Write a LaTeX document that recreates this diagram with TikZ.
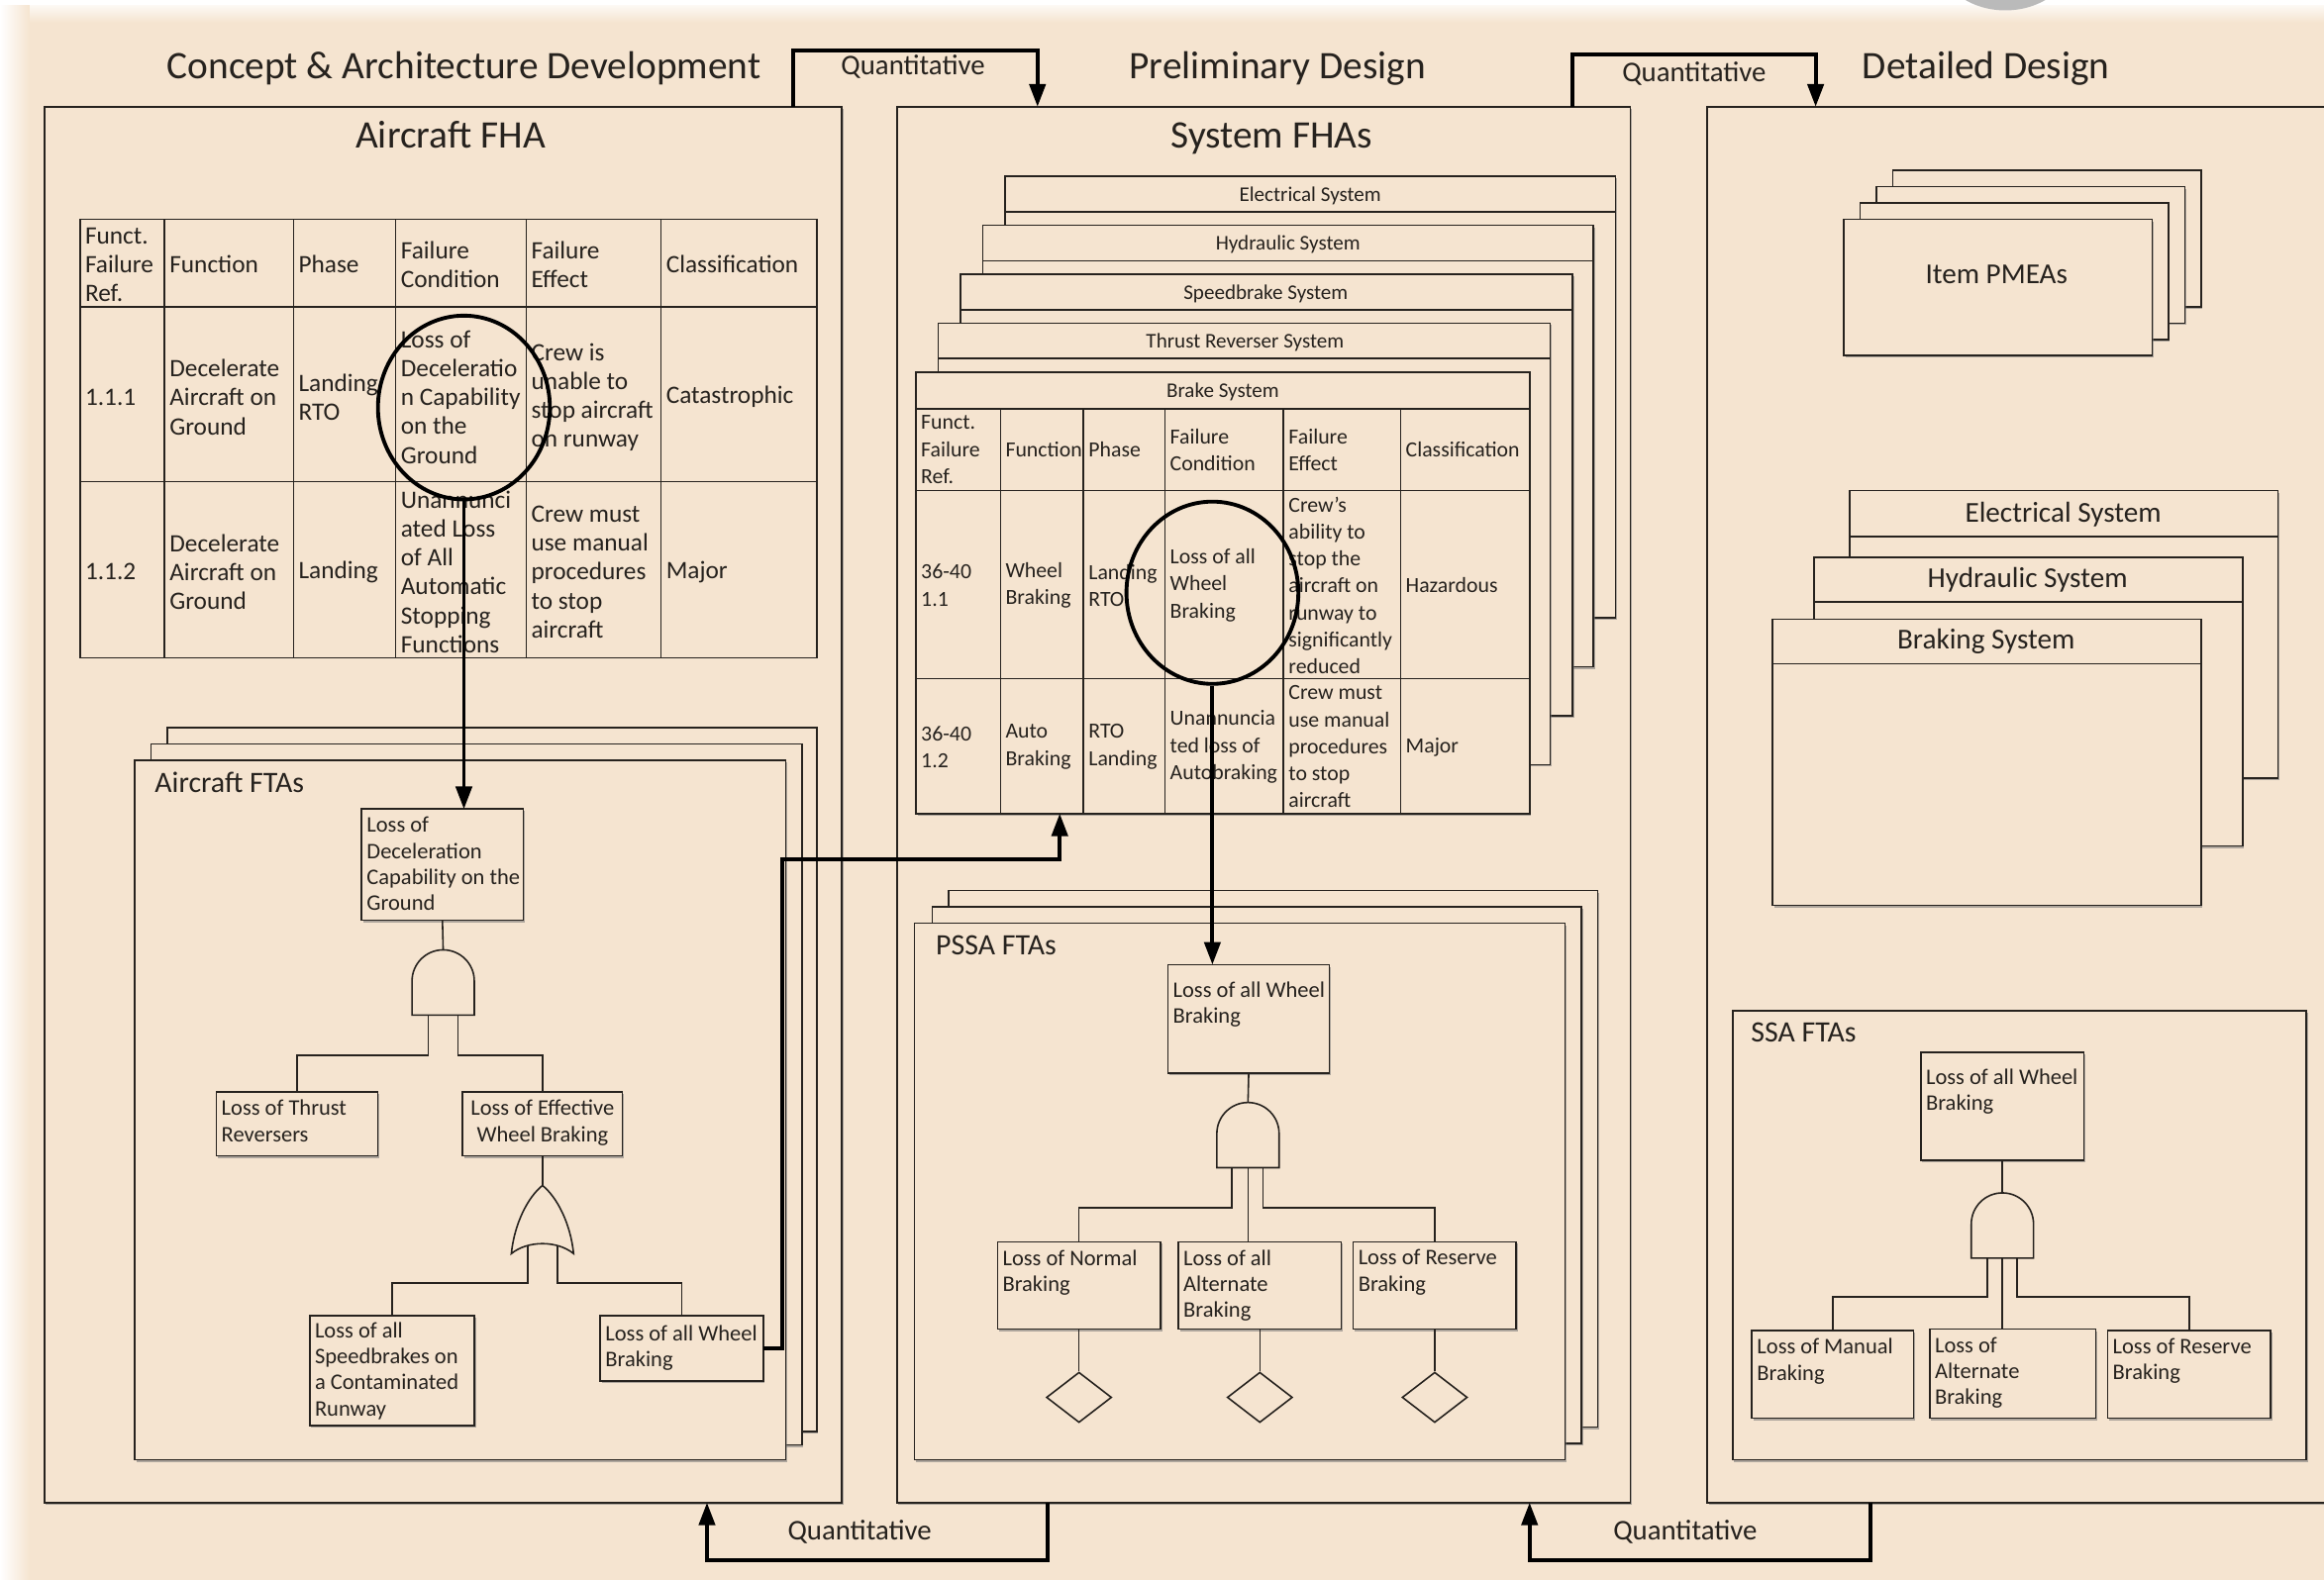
\documentclass[tikz,border=0pt]{standalone}
\usepackage{fontspec}
\setmainfont{Carlito}
\usetikzlibrary{arrows.meta,shapes.geometric,shadows}
\definecolor{bg}{RGB}{245,228,208}
\definecolor{ink}{RGB}{38,34,30}
\newlength\ux
\setlength\ux{0.014968cm}
\newcommand\fsz[2]{\fontsize{#1}{#2}\selectfont}

\tikzset{
  shade box/.style={drop shadow={shadow xshift=0.45pt, shadow yshift=-0.6pt, fill=black!55, opacity=0.55}},
  panel/.style={draw=ink, line width=0.55pt, fill=bg, inner sep=0pt, outer sep=0pt, shade box},
  card/.style={draw=ink, line width=0.45pt, fill=bg, inner sep=0pt, outer sep=0pt, shade box},
  plain box/.style={draw=ink, line width=0.45pt, fill=bg, inner sep=0pt, outer sep=0pt},
  rule/.style={draw=ink, line width=0.45pt},
  tree/.style={draw=ink, line width=0.45pt},
  gate/.style={draw=ink, line width=0.45pt, fill=bg},
  heavy/.style={draw=black, line width=1.1pt},
  flow/.style={heavy, -{Triangle[length=6.5pt,width=4.6pt]}},
  ring/.style={ellipse, draw=black, line width=1.1pt, inner sep=0pt},
  stage/.style={font=\fsz{11.2}{13}, inner sep=0pt, anchor=base},
  quant/.style={font=\fsz{8.2}{10}, inner sep=0pt},
  hdr/.style={font=\fsz{8.3}{10}, inner sep=0pt},
  ftitle/.style={font=\fsz{8.5}{10}, inner sep=0pt, anchor=west},
  evtext/.style={font=\fsz{6.4}{7.45}, inner sep=0pt, anchor=north west, align=left},
  fhacell/.style={font=\fsz{7.2}{8.3}, inner sep=0pt, anchor=west, align=left},
  syscell/.style={font=\fsz{6.2}{7.75}, inner sep=0pt, anchor=west, align=left},
  systag/.style={font=\fsz{6}{7}, inner sep=0pt},
  event/.style={diamond, draw=ink, line width=0.45pt, fill=bg, inner sep=0pt,
    minimum width=44\ux, minimum height=34\ux},
}
% box node from its corners: style, name, x1, y1, x2, y2
\newcommand\bx[6]{\node[#1, minimum width={(#5-#3)*\ux}, minimum height={(#6-#4)*\ux}] (#2) at ({(#3+#5)/2},{(#4+#6)/2}) {};}
% AND gate: centre x, bottom y
\newcommand\andgate[2]{\draw[gate] ({#1-21},#2) -- ({#1-21},{#2-23}) .. controls ({#1-21},{#2-34.6}) and ({#1-11.6},{#2-44}) .. (#1,{#2-44}) .. controls ({#1+11.6},{#2-44}) and ({#1+21},{#2-34.6}) .. ({#1+21},{#2-23}) -- ({#1+21},#2) -- cycle;}
% OR gate: centre x, bottom y
\newcommand\orgate[2]{\draw[gate] ({#1-21},#2) .. controls ({#1-19},{#2-20}) and ({#1-10},{#2-38}) .. (#1,{#2-46}) .. controls ({#1+10},{#2-38}) and ({#1+19},{#2-20}) .. ({#1+21},#2) .. controls ({#1+10},{#2-9}) and ({#1-10},{#2-9}) .. ({#1-21},#2) -- cycle;}

\begin{document}
\begin{tikzpicture}[x=\ux, y=-\ux, every node/.append style={text=ink}]
\useasboundingbox (0,0) rectangle (1568,1065.6);
\clip (0,0) rectangle (1568,1065.6);

% paper
\fill[bg] (0,0) rectangle (1568,1066);
\shade[top color=white, bottom color=bg] (0,0) rectangle (1568,15);
\shade[left color=white, right color=bg] (0,0) rectangle (20,1066);
\fill[white] (0,0) rectangle (1568,3);
\fill[black!27] (1353,-30) ellipse [x radius=46, y radius=37];

% the three phase panels
\bx{panel}{pA}{30}{72}{568}{1014}
\bx{panel}{pB}{605}{72}{1100}{1014}
\bx{panel}{pC}{1152}{72}{1620}{1014}

\node[stage] (sA) at (313,53) {Concept \& Architecture Development};
\node[stage] (sB) at (862,53) {Preliminary Design};
\node[stage] (sC) at (1340,53) {Detailed Design};

% quantitative hand-overs between the phases
\coordinate (qa) at (535,34); \coordinate (qb) at (700,34);
\draw[flow] (qa |- pA.north) -- (qa) -- (qb) -- (qb |- pB.north);
\node[quant] (qA) at (616,45) {Quantitative};
\coordinate (qc) at (1061,37); \coordinate (qd) at (1225,37);
\draw[flow] (qc |- pB.north) -- (qc) -- (qd) -- (qd |- pC.north);
\node[quant] (qB) at (1143,50) {Quantitative};
\coordinate (qe) at (707,1053); \coordinate (qf) at (477,1053);
\draw[flow] (qe |- pB.south) -- (qe) -- (qf) -- (qf |- pA.south);
\node[quant] (qC) at (580,1034) {Quantitative};
\coordinate (qg) at (1262,1053); \coordinate (qh) at (1032,1053);
\draw[flow] (qg |- pC.south) -- (qg) -- (qh) -- (qh |- pB.south);
\node[quant] (qD) at (1137,1034) {Quantitative};

% ---------------- Aircraft FHA ----------------
\node[stage] (tA) at (304,100) {Aircraft FHA};
\bx{plain box}{fha}{54}{148}{551}{444}
\foreach \cx in {111,198,267,355,446} \draw[rule] (\cx,148) -- (\cx,444);
\foreach \ry in {207,325} \draw[rule] (54,\ry) -- (551,\ry);
\node[fhacell] (a01) at (57,178.5) {Funct.\\Failure\\Ref.};
\node[fhacell] (a02) at (114,178.5) {Function};
\node[fhacell] (a03) at (201,178.5) {Phase};
\node[fhacell] (a04) at (270,178.5) {Failure\\Condition};
\node[fhacell] (a05) at (358,178.5) {Failure\\Effect};
\node[fhacell] (a06) at (449,178.5) {Classification};
\node[fhacell] (a11) at (57,268) {1.1.1};
\node[fhacell] (a12) at (114,268) {Decelerate\\Aircraft on\\Ground};
\node[fhacell] (a13) at (201,268) {Landing\\RTO};
\node[fhacell] (a14) at (270,268) {Loss of\\Deceleratio\\n Capability\\on the\\Ground};
\node[fhacell] (a15) at (358,268) {Crew is\\unable to\\stop aircraft\\on runway};
\node[fhacell] (a16) at (449,268) {Catastrophic};
\node[fhacell] (a21) at (57,386) {1.1.2};
\node[fhacell] (a22) at (114,386) {Decelerate\\Aircraft on\\Ground};
\node[fhacell] (a23) at (201,386) {Landing};
\node[fhacell] (a24) at (270,386) {Unannunci\\ated Loss\\of All\\Automatic\\Stopping\\Functions};
\node[fhacell] (a25) at (358,386) {Crew must\\use manual\\procedures\\to stop\\aircraft};
\node[fhacell] (a26) at (449,386) {Major};

% ---------------- Aircraft FTAs ----------------
\bx{card}{fA3}{113}{491}{551}{966}
\bx{card}{fA2}{102}{502}{541}{975}
\bx{card}{fA1}{91}{513}{530}{985}
\node[ftitle] (fAt) at (104,528) {Aircraft FTAs};

\bx{card}{evA}{244}{546}{353}{621}
\node[evtext] (evAt) at (247,551) {Loss of\\Deceleration\\Capability on the\\Ground};
\coordinate (gAtop) at (299,641);
\draw[tree] (evA.south) -- (gAtop);
\andgate{299}{685}
\coordinate (gAl) at (289,685); \coordinate (gAr) at (309,685);
\bx{card}{trA}{146}{737}{255}{780}
\node[evtext] (trAt) at (149,742) {Loss of Thrust\\Reversers};
\bx{card}{ewA}{312}{737}{420}{780}
\node[evtext, anchor=north, align=center] (ewAt) at (366,742) {Loss of Effective\\Wheel Braking};
\draw[tree] (gAl) -- ++(0,27) -| (trA.north);
\draw[tree] (gAr) -- ++(0,27) -| (ewA.north);
\coordinate (oAtop) at (366,800);
\draw[tree] (ewA.south) -- (oAtop);
\orgate{366}{846}
\coordinate (oAl) at (356,841); \coordinate (oAr) at (376,841);
\bx{card}{sbA}{209}{888}{320}{962}
\node[evtext] (sbAt) at (212,892) {Loss of all\\Speedbrakes on\\a Contaminated\\Runway};
\bx{card}{wbA}{405}{888}{515}{932}
\node[evtext] (wbAt) at (408,894) {Loss of all Wheel\\Braking};
\draw[tree] (oAl) -- ++(0,25) -| (sbA.north);
\draw[tree] (oAr) -- ++(0,25) -| (wbA.north);

% ---------------- System FHAs ----------------
\node[stage] (tB) at (858,100) {System FHAs};
\bx{card}{kE}{678}{119}{1090}{417}
\draw[rule] (kE.north west |- 0,143) -- (kE.north east |- 0,143);
\node[systag] (kEt) at (884,132) {Electrical System};
\bx{card}{kH}{663}{152}{1075}{450}
\draw[rule] (kH.north west |- 0,176) -- (kH.north east |- 0,176);
\node[systag] (kHt) at (869,165) {Hydraulic System};
\bx{card}{kS}{648}{185}{1061}{483}
\draw[rule] (kS.north west |- 0,209) -- (kS.north east |- 0,209);
\node[systag] (kSt) at (854,198) {Speedbrake System};
\bx{card}{kT}{633}{218}{1046}{516}
\draw[rule] (kT.north west |- 0,242) -- (kT.north east |- 0,242);
\node[systag] (kTt) at (840,231) {Thrust Reverser System};
\bx{card}{tabB}{618}{251}{1032}{549}
\node[systag] (kBt) at (825,264.5) {Brake System};
\foreach \ry in {276,331,458} \draw[rule] (618,\ry) -- (1032,\ry);
\foreach \cx in {675,731,786,866,945} \draw[rule] (\cx,276) -- (\cx,549);
\node[syscell] (b01) at (621,303.5) {Funct.\\Failure\\Ref.};
\node[syscell] (b02) at (678,303.5) {Function};
\node[syscell] (b03) at (734,303.5) {Phase};
\node[syscell] (b04) at (789,303.5) {Failure\\Condition};
\node[syscell] (b05) at (869,303.5) {Failure\\Effect};
\node[syscell] (b06) at (948,303.5) {Classification};
\node[syscell] (b11) at (621,395) {36-40\\1.1};
\node[syscell] (b12) at (678,395) {Wheel\\Braking};
\node[syscell] (b13) at (734,395) {Landing\\RTO};
\node[syscell] (b14) at (789,395) {Loss of all\\Wheel\\Braking};
\node[syscell] (b15) at (869,395) {Crew's\\ability to\\stop the\\aircraft on\\runway to\\significantly\\reduced};
\node[syscell] (b16) at (948,395) {Hazardous};
\node[syscell] (b21) at (621,504) {36-40\\1.2};
\node[syscell] (b22) at (678,504) {Auto\\Braking};
\node[syscell] (b23) at (734,504) {RTO\\Landing};
\node[syscell] (b24) at (789,504) {Unannuncia\\ted loss of\\Autobraking};
\node[syscell] (b25) at (869,504) {Crew must\\use manual\\procedures\\to stop\\aircraft};
\node[syscell] (b26) at (948,504) {Major};

% ---------------- PSSA FTAs ----------------
\bx{card}{fB3}{640}{601}{1078}{963}
\bx{card}{fB2}{629}{612}{1067}{974}
\bx{card}{fB1}{617}{623}{1056}{985}
\node[ftitle] (fBt) at (631,638) {PSSA FTAs};
\bx{card}{evB}{788}{651}{897}{724}
\node[evtext] (evBt) at (791,662) {Loss of all Wheel\\Braking};
\coordinate (gBtop) at (842,744);
\draw[tree] (evB.south) -- (gBtop);
\andgate{842}{788}
\coordinate (gBl) at (831,788); \coordinate (gBm) at (842,788); \coordinate (gBr) at (852,788);
\bx{card}{nB}{673}{838}{783}{897}
\node[evtext] (nBt) at (676,843) {Loss of Normal\\Braking};
\bx{card}{aB}{795}{838}{905}{897}
\node[evtext] (aBt) at (798,843) {Loss of all\\Alternate\\Braking};
\bx{card}{rB}{913}{838}{1023}{897}
\node[evtext] (rBt) at (916,843) {Loss of Reserve\\Braking};
\draw[tree] (gBl) -- ++(0,27) -| (nB.north);
\draw[tree] (gBm) -- (gBm |- aB.north);
\draw[tree] (gBr) -- ++(0,27) -| (rB.north);
\node[event] (dN) at (728,943) {};
\node[event] (dA) at (850,943) {};
\node[event] (dR) at (968,943) {};
\draw[tree] (nB.south) -- (dN.north);
\draw[tree] (aB.south) -- (dA.north);
\draw[tree] (rB.south) -- (dR.north);

% ---------------- Detailed design ----------------
\bx{card}{pm4}{1277}{115}{1485}{207}
\bx{card}{pm3}{1266}{126}{1474}{218}
\bx{card}{pm2}{1255}{137}{1463}{229}
\bx{card}{pm1}{1244}{148}{1452}{240}
\node[hdr] (pmt) at (1347,185) {Item PMEAs};

\bx{card}{yE}{1248}{331}{1537}{525}
\draw[rule] (yE.north west |- 0,362) -- (yE.north east |- 0,362);
\node[hdr] (yEt) at (1392,347) {Electrical System};
\bx{card}{yH}{1224}{376}{1513}{571}
\draw[rule] (yH.north west |- 0,406) -- (yH.north east |- 0,406);
\node[hdr] (yHt) at (1368,391) {Hydraulic System};
\bx{card}{yB}{1196}{418}{1485}{611}
\draw[rule] (yB.north west |- 0,448) -- (yB.north east |- 0,448);
\node[hdr] (yBt) at (1340,433) {Braking System};

\bx{card}{fC}{1169}{682}{1556}{985}
\node[ftitle] (fCt) at (1181,697) {SSA FTAs};
\bx{card}{evC}{1296}{710}{1406}{783}
\node[evtext] (evCt) at (1299,721) {Loss of all Wheel\\Braking};
\coordinate (gCtop) at (1351,805);
\draw[tree] (evC.south) -- (gCtop);
\andgate{1351}{849}
\coordinate (gCl) at (1341,849); \coordinate (gCm) at (1351,849); \coordinate (gCr) at (1361,849);
\bx{card}{mC}{1182}{898}{1291}{957}
\node[evtext] (mCt) at (1185,903) {Loss of Manual\\Braking};
\bx{card}{aC}{1302}{897}{1414}{957}
\node[evtext] (aCt) at (1305,902) {Loss of\\Alternate\\Braking};
\bx{card}{rC}{1422}{898}{1532}{957}
\node[evtext] (rCt) at (1425,903) {Loss of Reserve\\Braking};
\draw[tree] (gCl) -- ++(0,26) -| (mC.north);
\draw[tree] (gCm) -- (gCm |- aC.north);
\draw[tree] (gCr) -- ++(0,26) -| (rC.north);

% ---------------- traceability rings and links ----------------
\node[ring, minimum width=116\ux, minimum height=124\ux] (cA) at (313,275) {};
\draw[flow] (cA.south) -- (cA.south |- evA.north);
\node[ring, minimum width=116\ux, minimum height=123\ux] (cB) at (818,400) {};
\draw[flow] (cB.south) -- (cB.south |- evB.north);
\coordinate (jA) at (528,580); \coordinate (jB) at (715,580);
\draw[flow] (wbA.east) -| (jA) -- (jB) -- (jB |- tabB.south);
\end{tikzpicture}
\end{document}
